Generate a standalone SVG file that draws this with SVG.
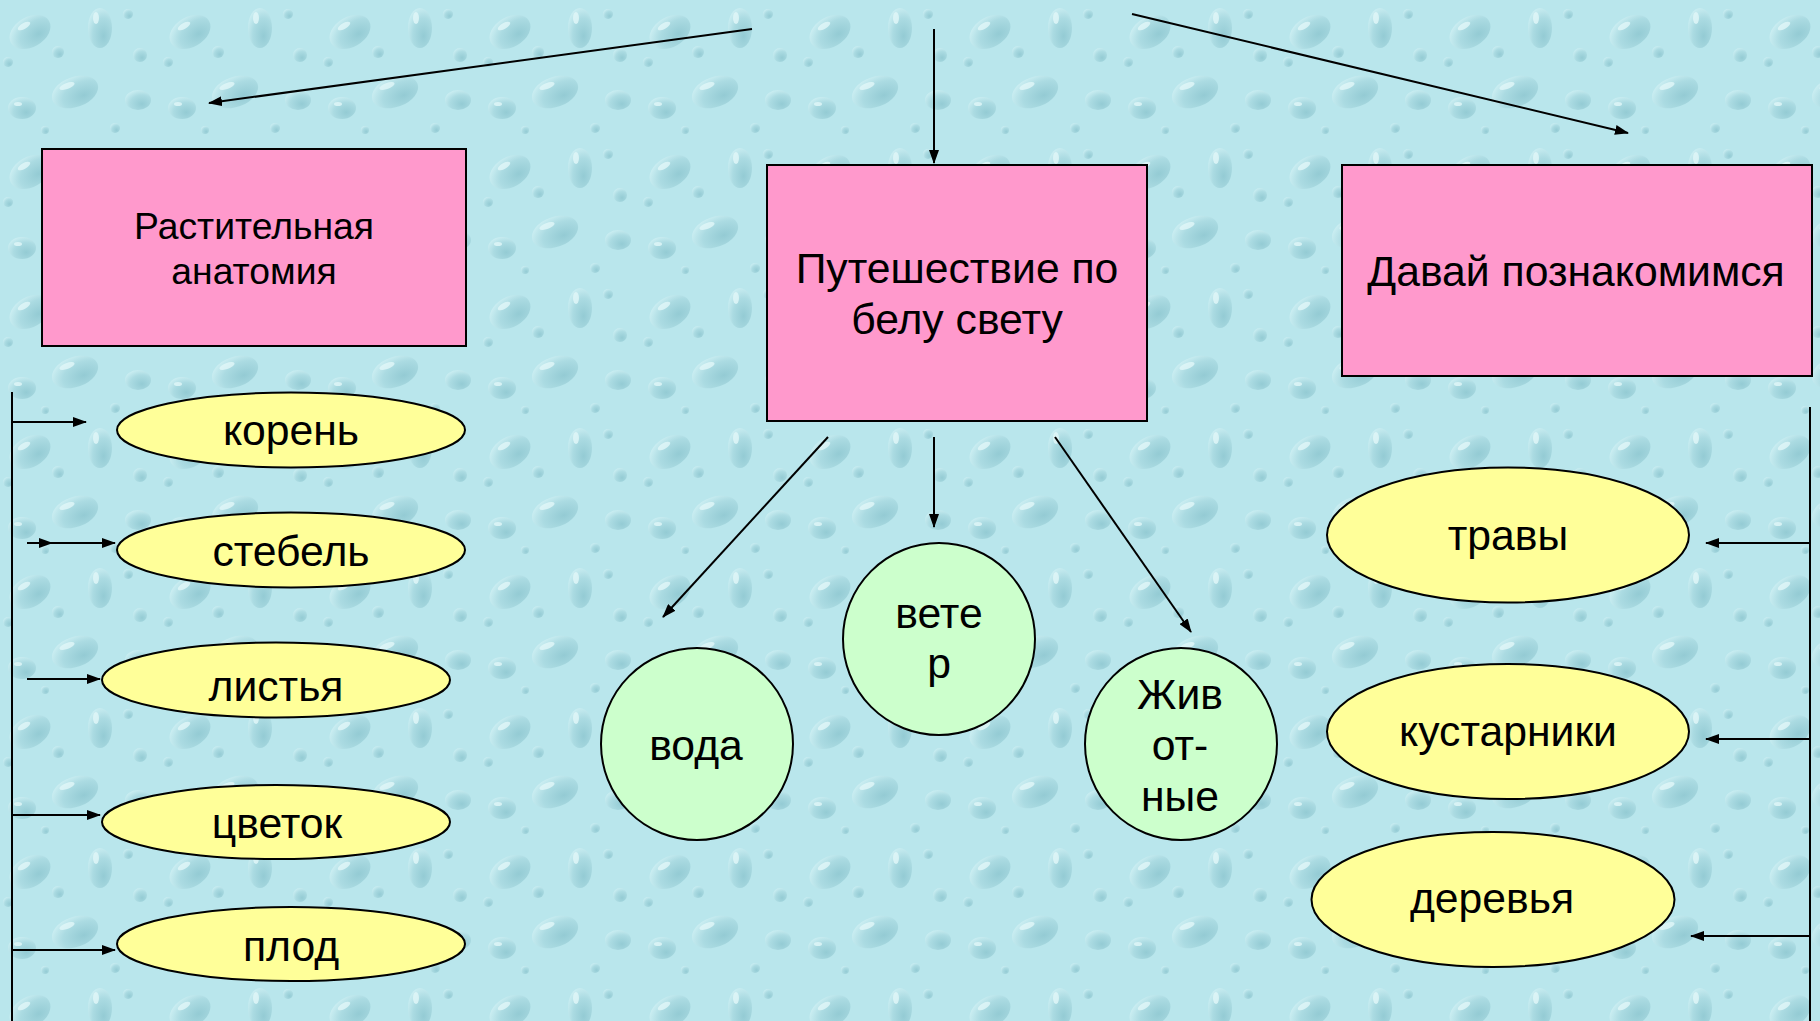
<svg xmlns="http://www.w3.org/2000/svg" width="1820" height="1021" viewBox="0 0 1820 1021">
<defs>
<style>
.box{fill:#FF99CC;stroke:#000;stroke-width:2}
.oval{fill:#FFFF99;stroke:#000;stroke-width:2}
.circ{fill:#CCFFCC;stroke:#000;stroke-width:2}
.t{font-family:"Liberation Sans",Arial,sans-serif;fill:#000;text-anchor:middle;font-size:42.7px}
.s{font-size:37.3px}
.c{stroke:#000;stroke-width:2;fill:none}
.ca{stroke:#000;stroke-width:2;fill:none;marker-end:url(#ah)}
.d{fill:url(#dg)}
.h{fill:#E2F7F9;opacity:0.8}
</style>
<marker id="ah" markerUnits="userSpaceOnUse" markerWidth="14" markerHeight="10" refX="13" refY="5" orient="auto" viewBox="0 0 14 10">
<path d="M0,0 L14,5 L0,10 z" fill="#000"/>
</marker>
<radialGradient id="dg" cx="0.65" cy="0.7" r="0.75">
<stop offset="0" stop-color="#94CBD4"/>
<stop offset="0.6" stop-color="#ABDBE2"/>
<stop offset="1" stop-color="#CBEEF2"/>
</radialGradient>
<pattern id="drops" width="160" height="140" patternUnits="userSpaceOnUse">
<rect width="160" height="140" fill="#B9E6EC"/>
<ellipse class="d" cx="30" cy="32" rx="22" ry="15" transform="rotate(-30 30 32)"/>
<ellipse class="h" cx="24" cy="26" rx="7" ry="3" transform="rotate(-30 24 26)"/>
<ellipse class="d" cx="100" cy="28" rx="12" ry="20"/>
<ellipse class="h" cx="96" cy="18" rx="3" ry="6"/>
<ellipse class="d" cx="75" cy="92" rx="24" ry="15" transform="rotate(-20 75 92)"/>
<ellipse class="h" cx="67" cy="86" rx="8" ry="3" transform="rotate(-20 67 86)"/>
<ellipse class="d" cx="138" cy="100" rx="13" ry="10"/>
<ellipse class="d" cx="22" cy="108" rx="14" ry="11"/>
<ellipse class="h" cx="18" cy="104" rx="4" ry="2"/>
<circle class="d" cx="58" cy="52" r="6"/>
<circle class="d" cx="140" cy="55" r="7"/>
<circle class="d" cx="45" cy="130" r="4"/>
<circle class="d" cx="115" cy="128" r="5"/>
<circle class="d" cx="128" cy="14" r="5"/>
<circle class="d" cx="8" cy="62" r="5"/>
</pattern>
</defs>
<rect width="1820" height="1021" fill="url(#drops)"/>

<g id="connectors">
<line class="ca" x1="752" y1="29" x2="209" y2="103"/>
<line class="ca" x1="934" y1="29" x2="934" y2="163"/>
<line class="ca" x1="1132" y1="14" x2="1628" y2="133"/>
<line class="ca" x1="828" y1="437" x2="663" y2="617"/>
<line class="ca" x1="934" y1="437" x2="934" y2="527"/>
<line class="ca" x1="1055" y1="437" x2="1191" y2="632"/>
<line class="c" x1="12" y1="392" x2="12" y2="1021"/>
<line class="ca" x1="12" y1="422" x2="86" y2="422"/>
<line class="ca" x1="27" y1="543" x2="115" y2="543"/>
<line class="ca" x1="27" y1="543" x2="52" y2="543"/>
<line class="ca" x1="27" y1="679" x2="100" y2="679"/>
<line class="ca" x1="12" y1="815" x2="100" y2="815"/>
<line class="ca" x1="12" y1="950" x2="115" y2="950"/>
<line class="c" x1="1810" y1="407" x2="1810" y2="1021"/>
<line class="ca" x1="1810" y1="543" x2="1706" y2="543"/>
<line class="ca" x1="1810" y1="739" x2="1706" y2="739"/>
<line class="ca" x1="1810" y1="936" x2="1691" y2="936"/>
</g>

<g id="box-anatomy">
<rect class="box" x="42" y="149" width="424" height="197"/>
<text class="t s" x="254" y="239">Растительная</text>
<text class="t s" x="254" y="284">анатомия</text>
</g>
<g id="box-travel">
<rect class="box" x="767" y="165" width="380" height="256"/>
<text class="t" x="957" y="283">Путешествие по</text>
<text class="t" x="957" y="334">белу свету</text>
</g>
<g id="box-meet">
<rect class="box" x="1342" y="165" width="470" height="211"/>
<text class="t" x="1576" y="286">Давай познакомимся</text>
</g>

<g id="node-koren">
<ellipse class="oval" cx="291" cy="430" rx="174" ry="37.5"/>
<text class="t" x="291" y="445">корень</text>
</g>
<g id="node-stebel">
<ellipse class="oval" cx="291" cy="550" rx="174" ry="37.5"/>
<text class="t" x="291" y="566">стебель</text>
</g>
<g id="node-listya">
<ellipse class="oval" cx="276" cy="680" rx="174" ry="37.5"/>
<text class="t" x="276" y="701">листья</text>
</g>
<g id="node-cvetok">
<ellipse class="oval" cx="276" cy="822" rx="174" ry="37"/>
<text class="t" x="277" y="838">цветок</text>
</g>
<g id="node-plod">
<ellipse class="oval" cx="291" cy="944" rx="174" ry="37"/>
<text class="t" x="291" y="961">плод</text>
</g>

<g id="node-voda">
<circle class="circ" cx="697" cy="744" r="96"/>
<text class="t" x="696" y="760">вода</text>
</g>
<g id="node-veter">
<circle class="circ" cx="939" cy="639" r="96"/>
<text class="t" x="939" y="628">вете</text>
<text class="t" x="939" y="678">р</text>
</g>
<g id="node-zhivotnye">
<circle class="circ" cx="1181" cy="744" r="96"/>
<text class="t" x="1180" y="709">Жив</text>
<text class="t" x="1180" y="760">от-</text>
<text class="t" x="1180" y="811">ные</text>
</g>

<g id="node-travy">
<ellipse class="oval" cx="1508" cy="535" rx="181" ry="67.5"/>
<text class="t" x="1508" y="550">травы</text>
</g>
<g id="node-kustarniki">
<ellipse class="oval" cx="1508" cy="731.5" rx="181" ry="67.5"/>
<text class="t" x="1508" y="746">кустарники</text>
</g>
<g id="node-derevya">
<ellipse class="oval" cx="1493" cy="899.5" rx="181.5" ry="67.5"/>
<text class="t" x="1492" y="913">деревья</text>
</g>
</svg>
